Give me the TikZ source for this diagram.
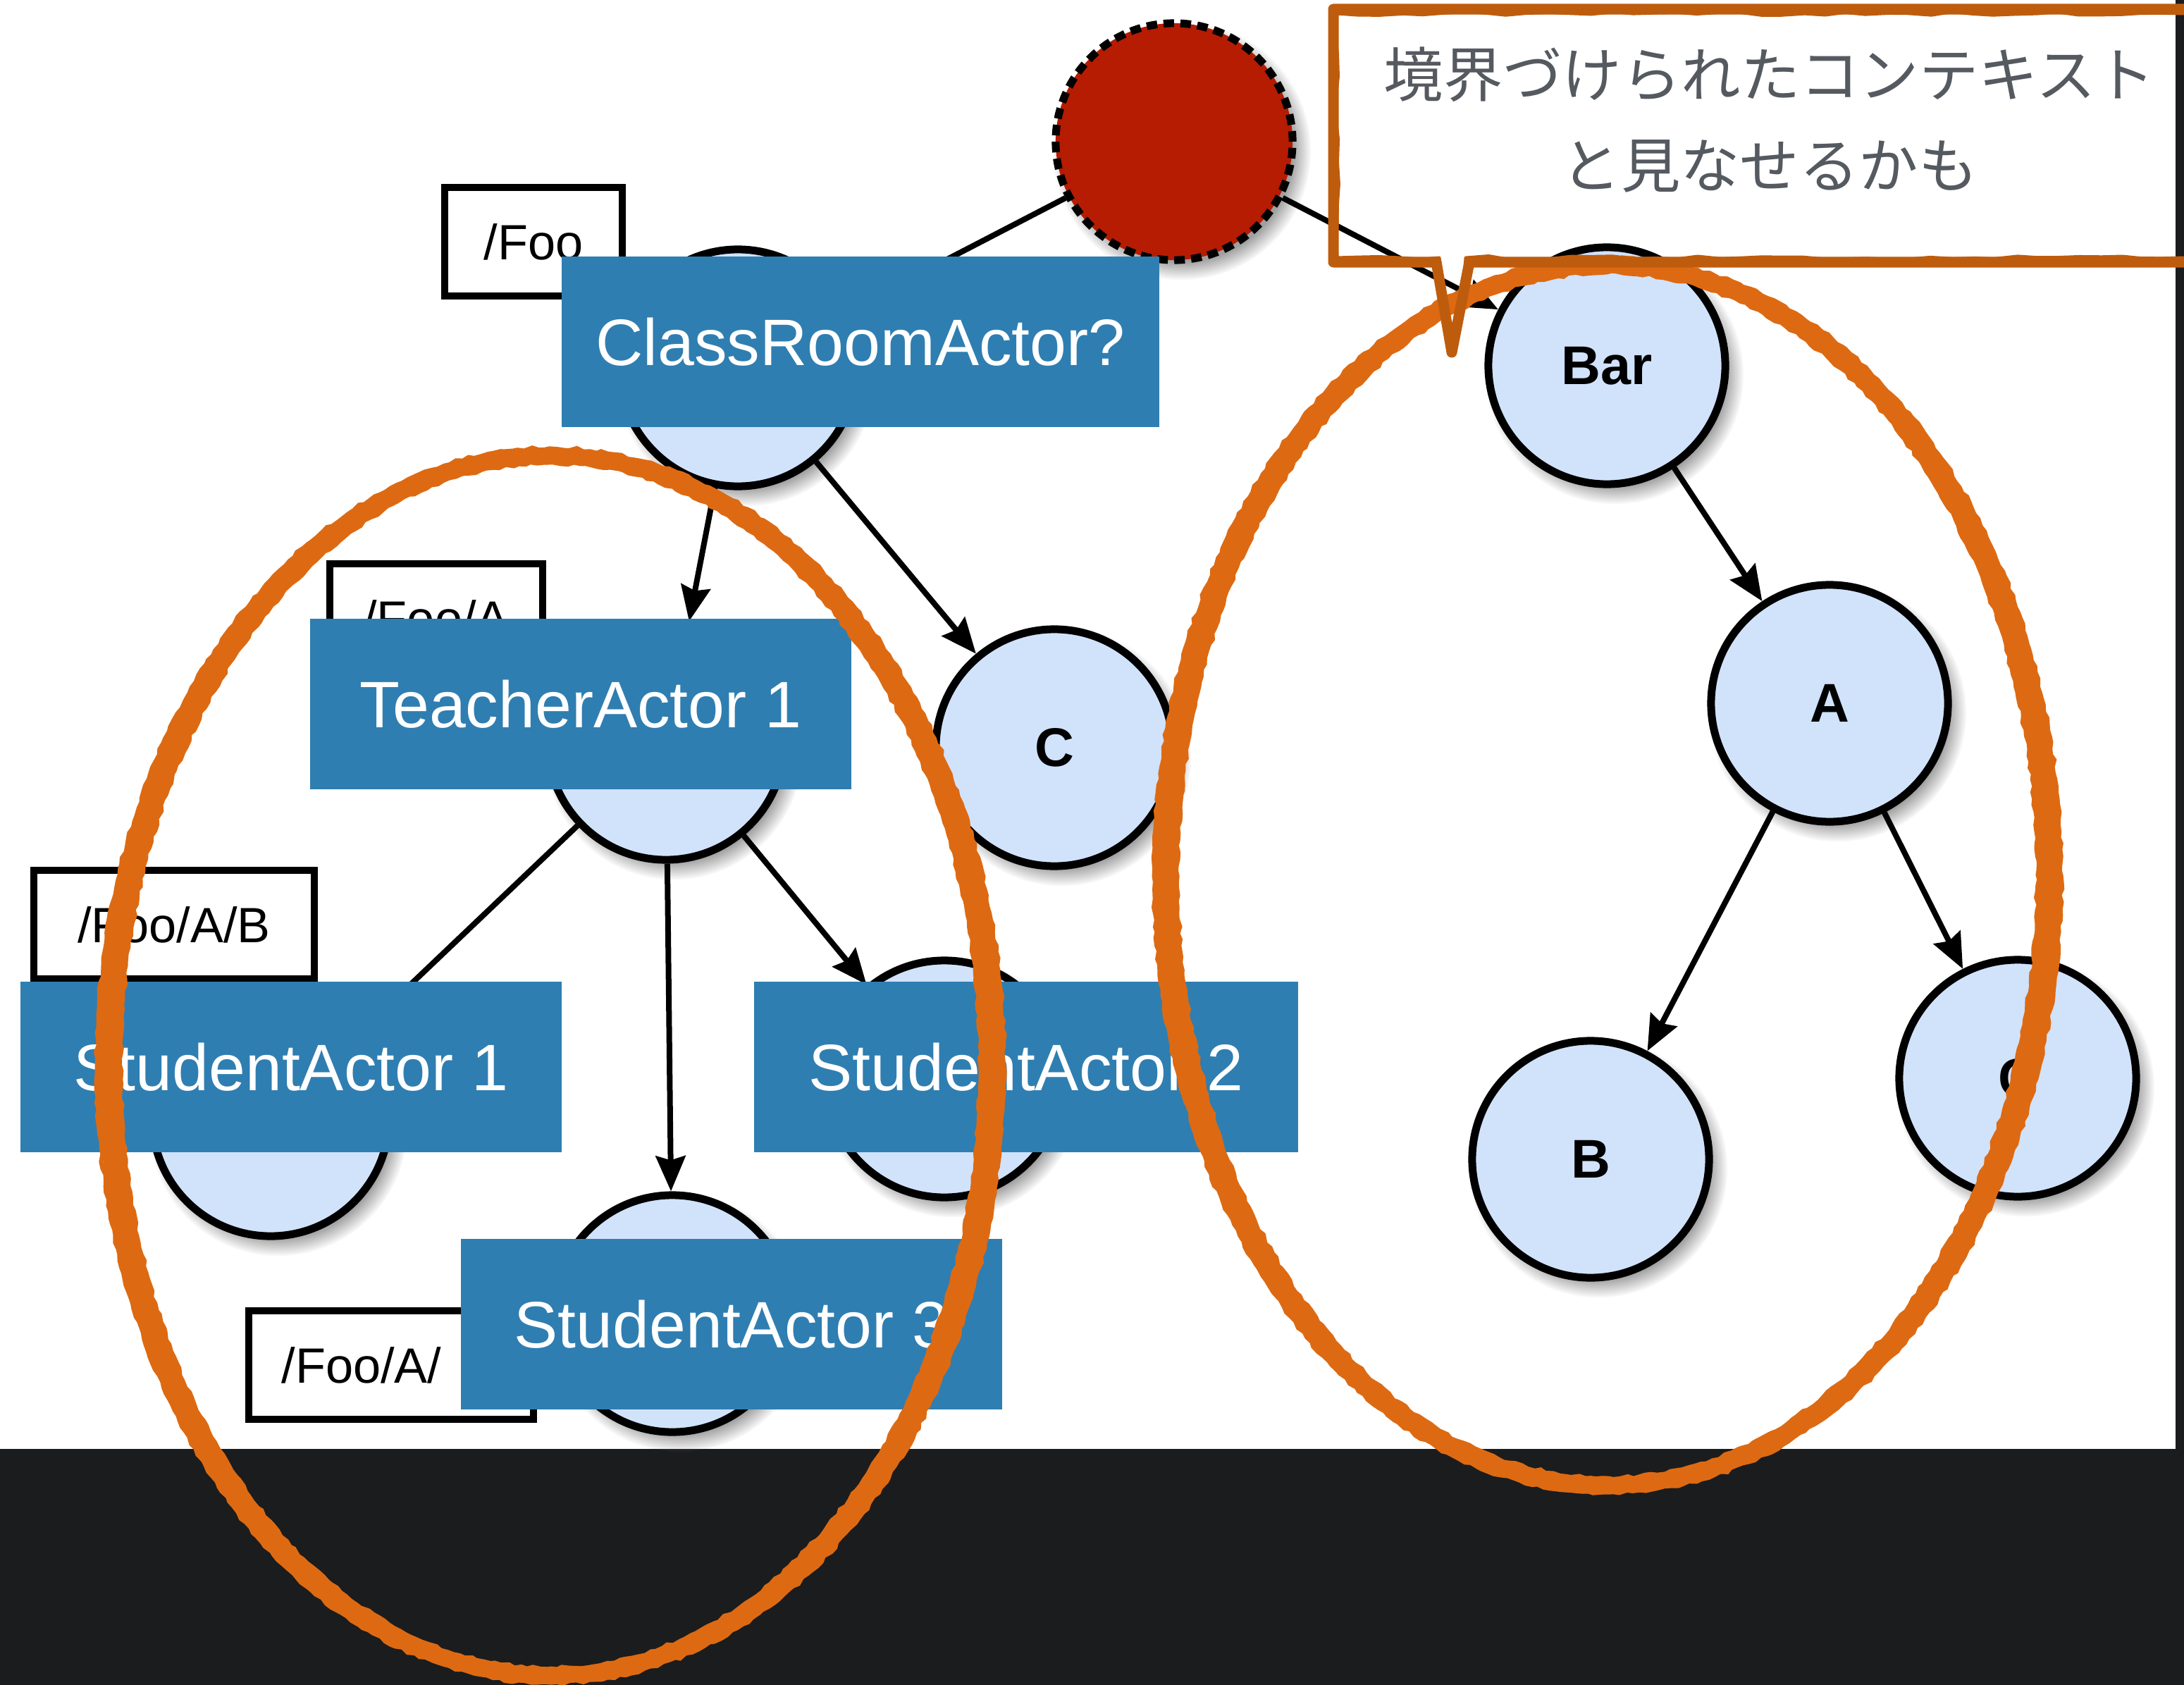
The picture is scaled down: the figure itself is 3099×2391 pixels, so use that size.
\documentclass[tikz,border=0pt]{standalone}
\usepackage{fontspec}
\usetikzlibrary{arrows.meta,shadows,decorations.pathmorphing}
\newfontfamily\labelfont{Liberation Sans}
\newfontfamily\jpfont{Noto Sans CJK JP}
\definecolor{pagedark}{RGB}{27,28,30}
\definecolor{nodefill}{RGB}{209,226,251}
\definecolor{rootred}{RGB}{181,28,2}
\definecolor{tagblue}{RGB}{47,126,177}
\definecolor{ringorange}{RGB}{221,106,18}
\definecolor{calloutorange}{RGB}{190,92,14}
\definecolor{notegray}{RGB}{85,90,96}

\tikzset{
  actor/.style={circle, draw=black, line width=0.11cm, fill=nodefill,
    minimum size=3.36cm, inner sep=0pt,
    circular drop shadow={shadow xshift=0.1cm, shadow yshift=-0.12cm,
      shadow scale=1.09, opacity=0.75},
    font=\labelfont\bfseries\fontsize{22}{24}\selectfont},
  rootnode/.style={actor, fill=rootred, dash pattern=on 0.15cm off 0.09cm},
  pathtag/.style={rectangle, draw=black, line width=0.1cm, fill=white,
    inner sep=0pt, minimum height=1.54cm,
    font=\labelfont\fontsize{20}{22}\selectfont},
  pathtext/.style={inner sep=0pt, font=\labelfont\fontsize{20}{22}\selectfont},
  rolebox/.style={rectangle, fill=tagblue, text=white, inner sep=0pt,
    minimum height=2.41cm, minimum width=7.68cm,
    font=\labelfont\fontsize{26.5}{30}\selectfont},
  descend/.style={black, line width=0.08cm,
    -{Stealth[length=0.5cm, width=0.42cm, inset=0.06cm]}},
  ctxring/.style={ringorange, line width=0.2cm},
  ctxedge/.style={ringorange, line width=0.06cm, decorate,
    decoration={random steps, segment length=0.09cm, amplitude=0.02cm}},
  bubble/.style={calloutorange, line width=0.15cm, line join=round, line cap=round},
  bubbleedge/.style={calloutorange, line width=0.05cm, line join=round, decorate,
    decoration={random steps, segment length=0.3cm, amplitude=0.025cm}},
}

\begin{document}
\begin{tikzpicture}[x=0.01cm, y=-0.01cm]
\useasboundingbox (0,0) rectangle (3099,2391);

% page backdrop
\fill[pagedark] (0,0) rectangle (3099,2391);
\fill[white] (0,0) rectangle (3087,2056);

% actor tree
\node[rootnode] (guard) at (1666,201) {};
\node[actor] (foo)   at (1047,522)  {};
\node[actor] (bar)   at (2280,519)  {Bar};
\node[actor] (fooA)  at (945,1052)  {};
\node[actor] (fooC)  at (1496,1061) {C};
\node[actor] (fooAB) at (384,1586)  {};
\node[actor] (fooAC) at (1340,1531) {};
\node[actor] (fooAD) at (954,1864)  {};
\node[actor] (barA)  at (2596,998)  {A};
\node[actor] (barAB) at (2257,1645) {B};
\node[actor] (barAC) at (2863,1530) {C};

\draw[descend] (guard) -- (foo);
\draw[descend] (guard) -- (bar);
\draw[descend] (foo) -- (fooA);
\draw[descend] (foo) -- (fooC);
\draw[descend] (fooA) -- (fooAB);
\draw[descend] (fooA) -- (fooAC);
\draw[descend] (fooA) -- (fooAD);
\draw[descend] (bar) -- (barA);
\draw[descend] (barA) -- (barAB);
\draw[descend] (barA) -- (barAC);

% actor paths
\node[pathtag, minimum width=2.52cm] (tagFoo)   at (757,343)  {/Foo};
\node[pathtag, minimum width=3.01cm] (tagFooA)  at (619,877)  {/Foo/A};
\node[pathtag, minimum width=3.97cm] (tagFooAB) at (247,1312) {/Foo/A/B};
\node[pathtag, minimum width=4.03cm] (tagFooAD) at (555,1937) {};
\node[pathtext, anchor=west] (tagFooADtext) at (399,1937) {/Foo/A/};

% role labels
\node[rolebox, minimum width=8.47cm, minimum height=2.42cm] (classroom) at (1221,485) {ClassRoomActor?};
\node[rolebox] (teacher)  at (824,999)   {TeacherActor 1};
\node[rolebox] (student1) at (413,1514)  {StudentActor 1};
\node[rolebox, minimum width=7.71cm] (student2) at (1456,1514) {StudentActor 2};
\node[rolebox] (student3) at (1038,1879) {StudentActor 3};

% hand-drawn context rings
\coordinate (ctxLeft) at (781,1512);
\coordinate (ctxRight) at (2281,1242);
\foreach \c in {ctxLeft, ctxRight} {
  \draw[ctxring] (\c) ellipse [x radius=6.20cm, y radius=8.64cm];
  \draw[ctxring] (\c) ellipse [x radius=6.32cm, y radius=8.66cm];
  \draw[ctxedge] (\c) ellipse [x radius=6.43cm, y radius=8.75cm];
  \draw[ctxedge] (\c) ellipse [x radius=6.10cm, y radius=8.55cm];
}

% speech bubble
\coordinate (bubbleTip) at (2060,500);
\draw[bubble] (3099,13) -- (1892,13) -- (1892,372) -- (2038,372) -- (bubbleTip) -- (2085,372) -- (3099,372);
\draw[bubbleedge] (3099,19) -- (1897,19) -- (1897,366) -- (2042,366) -- (bubbleTip) -- (2080,366) -- (3099,366);
\node[font=\jpfont\fontsize{24}{36.7}\selectfont, text=notegray, align=center, inner sep=0pt]
  (note) at (2511,170) {境界づけられたコンテキスト\\と見なせるかも};
\end{tikzpicture}
\end{document}
